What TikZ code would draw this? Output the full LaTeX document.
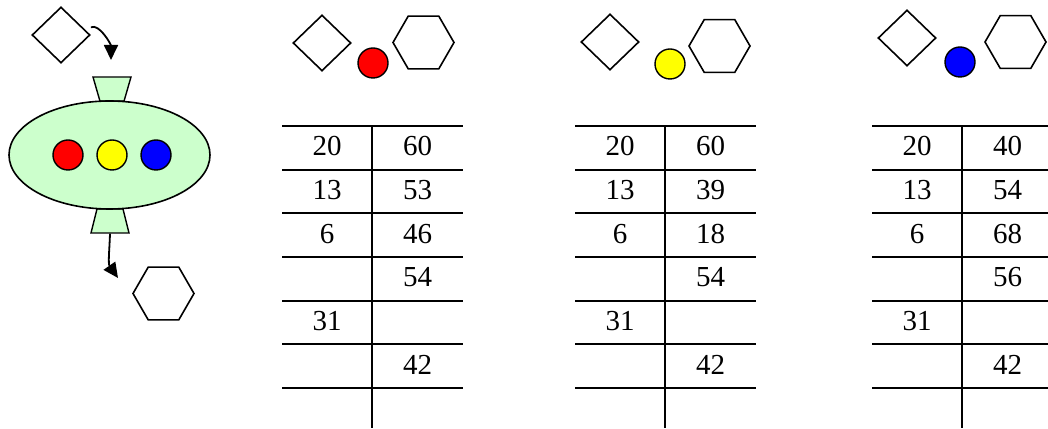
\documentclass[tikz,border=0pt]{standalone}
\usepackage{fontspec}
\setmainfont{Liberation Serif}
\usepackage{tikz}
\usetikzlibrary{shapes.geometric, arrows.meta, positioning}
\definecolor{tankgreen}{HTML}{CCFFCC}
\definecolor{ballred}{HTML}{FF0000}
\definecolor{ballyellow}{HTML}{FFFF00}
\definecolor{ballblue}{HTML}{0000FF}

\begin{document}
\begin{tikzpicture}[x=1pt, y=1pt,
    every node/.style={inner sep=0pt},
    diam/.style={diamond, draw, line width=1.6pt, minimum width=58pt, minimum height=56pt},
    hexa/.style={regular polygon, regular polygon sides=6, draw, line width=1.6pt, minimum size=61pt},
    ball/.style={circle, draw, line width=1.4pt, minimum size=30pt},
    tank/.style={ellipse, draw, fill=tankgreen, line width=1.6pt, minimum width=201pt, minimum height=108pt},
    valve/.style={trapezium, draw, fill=tankgreen, line width=1.4pt, inner sep=2pt, trapezium stretches=true, minimum width=38pt, minimum height=24pt},
    flow/.style={-{Triangle[length=15pt,width=14pt]}, line width=1.8pt},
    rule/.style={line width=2pt},
    num/.style={font=\fontsize{29}{34}\selectfont}]

    \useasboundingbox (0,0) rectangle (1048,428);

    % Mixer with inlet and outlet
    \node[diam] (dia0) at (61,393) {};
    \node[valve, trapezium angle=74, shape border rotate=180] (vin) at (112,339) {};
    \node[valve, trapezium angle=77] (vout) at (110,207) {};
    \node[tank] (tank) at (109.5,273) {};
    \node[ball, fill=ballred] (red0) at (68,273) {};
    \node[ball, fill=ballyellow] (yellow0) at (112,273) {};
    \node[ball, fill=ballblue] (blue0) at (156,273) {};
    \node[hexa] (hex0) at (163.5,134.5) {};

    \coordinate (inlet) at (111,368);
    \coordinate (outlet) at (118,150);
    \draw[flow, shorten <=6pt] (dia0.12) to[out=25, in=90] (inlet);
    \draw[flow] (vout.south) to[out=-92, in=125] (outlet);

    % Header of each table
    \node[diam] (dia1) at (322,385) {};
    \node[ball, fill=ballred] (ball1) at (373,365) {};
    \node[hexa] (hex1) at (423.5,385.5) {};

    \node[diam] (dia2) at (610,386) {};
    \node[ball, fill=ballyellow] (ball2) at (670,364) {};
    \node[hexa] (hex2) at (719.5,382) {};

    \node[diam] (dia3) at (907,390) {};
    \node[ball, fill=ballblue] (ball3) at (960,366) {};
    \node[hexa] (hex3) at (1015.5,386) {};

    % Table rules
    \foreach \x in {282, 575, 872}{
        \foreach \k in {0,...,6}
            \draw[rule] (\x, 302-43.67*\k) -- (\x+181, 302-43.67*\k);
        \draw[rule] (\x+90, 302) -- (\x+90, 0);
    }

    % Table entries
    \foreach \k/\a/\b in {0/20/60, 1/13/53, 2/6/46, 3//54, 4/31/, 5//42}{
        \node[num] (ta-l\k) at (327, 281.7-43.67*\k) {\a};
        \node[num] (ta-r\k) at (417.5, 281.7-43.67*\k) {\b};
    }
    \foreach \k/\a/\b in {0/20/60, 1/13/39, 2/6/18, 3//54, 4/31/, 5//42}{
        \node[num] (tb-l\k) at (620, 281.7-43.67*\k) {\a};
        \node[num] (tb-r\k) at (710.5, 281.7-43.67*\k) {\b};
    }
    \foreach \k/\a/\b in {0/20/40, 1/13/54, 2/6/68, 3//56, 4/31/, 5//42}{
        \node[num] (tc-l\k) at (917, 281.7-43.67*\k) {\a};
        \node[num] (tc-r\k) at (1007.5, 281.7-43.67*\k) {\b};
    }

\end{tikzpicture}
\end{document}
